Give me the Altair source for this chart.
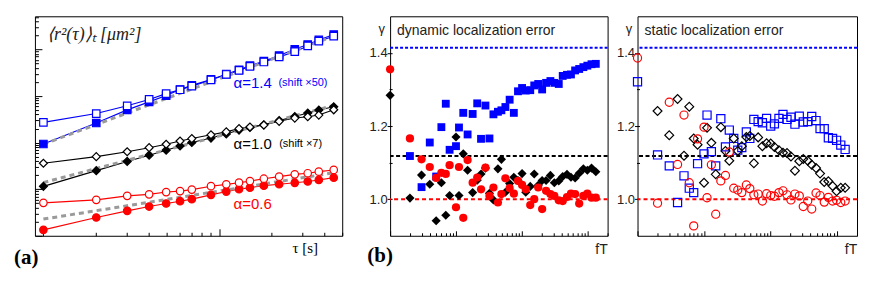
import altair as alt
import pandas as pd

# ---------------- panel (a): time averaged MSD ----------------
TAU = [1, 2, 3, 4, 5, 6, 7, 9, 11, 13, 15, 18, 22, 27, 32, 37, 45]
MSD_BLUE_FILLED = [9.33, 26.3, 50.4, 74.8, 102, 138, 169, 227, 294, 364, 448, 559, 740, 1009, 1274, 1597, 2084]
MSD_BLUE_OPEN = [27.2, 42.0, 61.7, 84.5, 112.5, 136, 163, 221, 290, 355, 431, 537, 691, 894, 1189, 1500, 1919]
MSD_BLACK_FILLED = [1.15, 2.50, 3.94, 5.37, 6.88, 8.46, 10.05, 12.5, 15.3, 18.6, 21.1, 24.2, 29.7, 36.2, 43.0, 49.9, 58.7]
MSD_BLACK_OPEN = [3.60, 4.99, 6.35, 7.78, 9.20, 10.8, 12.2, 14.7, 17.0, 20.0, 21.6, 23.8, 28.6, 33.6, 35.9, 39.0, 50.6]
MSD_RED_FILLED = [0.134, 0.247, 0.343, 0.424, 0.492, 0.553, 0.611, 0.755, 0.889, 1.0, 1.08, 1.19, 1.28, 1.37, 1.46, 1.58, 1.77]
MSD_RED_OPEN = [0.509, 0.590, 0.719, 0.774, 0.867, 0.910, 0.980, 1.16, 1.27, 1.38, 1.49, 1.68, 1.86, 2.08, 2.20, 2.38, 2.59]
FIT_TAU = [1, 45]
FIT_BLUE = [9.25, 1919]
FIT_BLACK = [1.385, 62.6]
FIT_RED = [0.228, 2.25]
XTICKS_A_MAJOR = [1, 10]
XTICKS_A_MINOR = [2, 3, 4, 5, 6, 7, 8, 9, 20, 30, 40, 50]
YTICKS_A_MAJOR = [0.1, 1, 10, 100, 1000]
YTICKS_A_MINOR = [0.2, 0.3, 0.4, 0.5, 0.6, 0.7, 0.8, 0.9,
                  2, 3, 4, 5, 6, 7, 8, 9,
                  20, 30, 40, 50, 60, 70, 80, 90,
                  200, 300, 400, 500, 600, 700, 800, 900,
                  2000, 3000, 4000, 5000]

# ---------------- panel (b): local exponent gamma vs fT ----------------
FT = [0.1, 0.2, 0.3, 0.4, 0.5, 0.6, 0.7, 0.8, 1.0, 1.11, 1.29, 1.5, 1.79, 2.1, 2.4, 2.8, 3.22,
      3.7, 4.33, 4.89, 5.62, 6.52, 7.55, 8.73, 10.07, 11.45, 13.4, 15.4, 17.7, 20.3, 23.3,
      27.1, 31.1, 36.3, 41.7, 48.4, 55.6, 64.3, 74.1, 85.8, 98.6, 114, 132.5]

DYN_BLUE = [1.118, 1.033, 1.155, 1.062, 1.197, 1.261, 1.135, 1.145, 1.196, 1.236, 1.177, 1.233,
            1.262, 1.165, 1.256, 1.166, 1.232, 1.239, 1.243, 1.252, 1.272, 1.236, 1.295, 1.304,
            1.297, 1.298, 1.311, 1.315, 1.300, 1.318, 1.323, 1.318, 1.315, 1.337, 1.340, 1.341,
            1.352, 1.356, 1.361, 1.365, 1.369, 1.370]          # starts at FT[1]
DYN_BLACK = [1.284, 1.003, 1.066, 1.041, 0.941, 1.045, 0.956, 1.010, 1.170, 1.010, 1.124, 1.079,
             1.018, 1.052, 1.069, 1.085, 1.016, 0.998, 1.083, 1.109, 1.019, 1.043, 1.060, 1.051,
             1.070, 1.019, 1.035, 1.069, 1.038, 1.051, 1.051, 1.065, 1.045, 1.050, 1.062, 1.068,
             1.060, 1.058, 1.071, 1.083, 1.079, 1.085, 1.075]
DYN_RED = [1.355, 1.166, 1.109, 1.088, 1.058, 1.072, 1.069, 1.093, 0.978, 1.088, 0.949, 1.107,
           1.045, 1.059, 1.027, 1.086, 1.009, 1.032, 0.991, 1.014, 1.057, 1.030, 1.015, 1.050,
           1.039, 1.027, 0.984, 1.000, 1.032, 0.973, 1.023, 1.014, 1.009, 0.997, 0.995, 1.006,
           1.015, 1.014, 0.988, 1.009, 1.015, 1.004, 1.004]

STA_BLUE = [1.321, 1.121, 1.091, 0.991, 1.064, 1.030, 1.018, 1.097, 1.124, 1.230, 1.130, 1.091,
            1.220, 1.143, 1.189, 1.166, 1.134, 1.141, 1.184, 1.166, 1.218, 1.212, 1.209, 1.221,
            1.200, 1.206, 1.221, 1.232, 1.218, 1.224, 1.205, 1.227, 1.211, 1.212, 1.226, 1.215,
            1.193, 1.193, 1.168, 1.166, 1.161, 1.148, 1.136]
STA_BLACK = [1.241, 1.175, 1.274, 1.119, 1.253, 1.166, 1.149, 1.045, 1.195, 1.154, 1.068, 1.197,
             1.132, 1.105, 1.166, 1.132, 1.145, 1.170, 1.173, 1.098, 1.169, 1.145, 1.153, 1.152,
             1.143, 1.134, 1.127, 1.126, 1.117, 1.078, 1.104, 1.110, 1.105, 1.094, 1.085, 1.070,
             1.047, 1.049, 1.036, 1.022, 1.031, 1.031]          # starts at FT[1]
STA_RED = [1.386, 0.989, 1.265, 1.095, 1.230, 1.045, 0.927, 1.165, 1.197, 1.004, 1.094, 0.959,
           1.050, 1.065, 1.129, 1.030, 1.025, 1.018, 1.039, 1.029, 1.012, 1.014, 0.995, 1.015,
           1.010, 1.008, 1.018, 1.023, 1.012, 0.998, 1.014, 1.009, 0.980, 0.995, 0.973, 1.017,
           1.010, 0.992, 1.005, 0.995, 0.997, 0.991, 0.995]

LIMITS = [1.414, 1.118, 1.0]
XTICKS_B_MAJOR = [0.1, 1, 10, 100]
XTICKS_B_MINOR = [0.2, 0.3, 0.4, 0.5, 0.6, 0.7, 0.8, 0.9, 2, 3, 4, 5, 6, 7, 8, 9,
                  20, 30, 40, 50, 60, 70, 80, 90, 200]
YTICKS_B_MAJOR = [1.0, 1.2, 1.4]
YTICKS_B_MINOR = [1.1, 1.3]

BLUE, BLACK, RED, GRAY = "#0000ff", "#000000", "#ff0000", "#9a9a9a"
SANS = "Liberation Sans"
SERIF = "Liberation Serif"


def tick_axis(orient, offset, values, size):
    return alt.Axis(orient=orient, offset=offset, values=values, labels=False, domain=False,
                    grid=False, title=None, tickColor="black", tickWidth=1, tickSize=size)


def text_layer(x, y, t, scx, scy, **kw):
    d = pd.DataFrame({"x": [x], "y": [y], "t": [t]})
    return alt.Chart(d).mark_text(**kw).encode(
        x=alt.X("x:Q", scale=scx, axis=None), y=alt.Y("y:Q", scale=scy, axis=None), text="t:N")


# ---------------- panel (a) chart ----------------
W_A, H_A = 308, 220
xa = alt.Scale(type="log", domain=[0.895, 50.3], nice=False)
ya = alt.Scale(type="log", domain=[0.1, 5140], nice=False)

series_a = [
    (MSD_BLUE_FILLED, "square", BLUE, BLUE),
    (MSD_BLUE_OPEN, "square", BLUE, "#ffffff"),
    (MSD_BLACK_FILLED, "diamond", BLACK, BLACK),
    (MSD_BLACK_OPEN, "diamond", BLACK, "#ffffff"),
    (MSD_RED_FILLED, "circle", RED, RED),
    (MSD_RED_OPEN, "circle", RED, "#ffffff"),
]

line_layers, point_layers = [], []
for i, (vals, shp, col, fil) in enumerate(series_a):
    d = pd.DataFrame({"x": TAU, "y": vals})
    if i == 0:
        xenc = alt.X("x:Q", scale=xa, axis=tick_axis("top", -H_A, XTICKS_A_MAJOR, 7))
        yenc = alt.Y("y:Q", scale=ya, axis=tick_axis("right", -W_A, YTICKS_A_MAJOR, 7))
    else:
        xenc = alt.X("x:Q", scale=xa, axis=None)
        yenc = alt.Y("y:Q", scale=ya, axis=None)
    line_layers.append(alt.Chart(d).mark_line(color=col, strokeWidth=1.1).encode(x=xenc, y=yenc))
    point_layers.append(alt.Chart(d).mark_point(
        shape=shp, stroke=col, fill=fil, opacity=1, fillOpacity=1, strokeWidth=1.2,
        size=64 if shp == "diamond" else 56).encode(
        x=alt.X("x:Q", scale=xa, axis=None), y=alt.Y("y:Q", scale=ya, axis=None)))

fit_layers = []
for j, vals in enumerate([FIT_BLUE, FIT_BLACK, FIT_RED]):
    d = pd.DataFrame({"x": FIT_TAU, "y": vals})
    if j == 0:
        xenc = alt.X("x:Q", scale=xa, axis=tick_axis("top", -H_A, XTICKS_A_MINOR, 3.5))
        yenc = alt.Y("y:Q", scale=ya, axis=tick_axis("right", -W_A, YTICKS_A_MINOR, 3.5))
    else:
        xenc = alt.X("x:Q", scale=xa, axis=None)
        yenc = alt.Y("y:Q", scale=ya, axis=None)
    fit_layers.append(alt.Chart(d).mark_line(color=GRAY, strokeDash=[5, 4], strokeWidth=3)
                      .encode(x=xenc, y=yenc))

ann_a = [
    text_layer(1.047, 2014, "⟨r²(τ)⟩ₜ [μm²]", xa, ya, align="left", baseline="middle",
               font=SERIF, fontStyle="italic", fontSize=18, color="#222"),
    text_layer(12.1, 190, "α=1.4", xa, ya, align="left", baseline="middle", font=SANS,
               fontSize=15, color=BLUE),
    text_layer(21.8, 190, "(shift ×50)", xa, ya, align="left", baseline="middle", font=SANS,
               fontSize=11, color=BLUE),
    text_layer(12.1, 9.2, "α=1.0", xa, ya, align="left", baseline="middle", font=SANS,
               fontSize=15, color=BLACK),
    text_layer(22.0, 9.2, "(shift ×7)", xa, ya, align="left", baseline="middle", font=SANS,
               fontSize=11, color=BLACK),
    text_layer(12.1, 0.477, "α=0.6", xa, ya, align="left", baseline="middle", font=SANS,
               fontSize=15, color=RED),
    text_layer(31.0, 0.0553, "τ [s]", xa, ya, align="center", baseline="middle", font=SERIF,
               fontSize=15, color=BLACK),
    text_layer(0.68, 0.0338, "(a)", xa, ya, align="left", baseline="middle", font=SERIF,
               fontWeight="bold", fontSize=21, color=BLACK),
]

panel_a = alt.layer(*line_layers, *fit_layers, *point_layers, *ann_a).resolve_axis(
    x="independent", y="independent").properties(width=W_A, height=H_A)


# ---------------- panel (b) charts ----------------
def gamma_panel(width, blue, black, red, filled, title_text, with_b):
    H = 220
    xs = alt.Scale(type="log", domain=[0.1, 200], nice=False)
    ys = alt.Scale(domain=[0.9, 1.5], nice=False, zero=False)
    y_axis_major = alt.Axis(orient="left", offset=-2, values=YTICKS_B_MAJOR, domain=False,
                            grid=False, tickColor="black", tickWidth=1, tickSize=5,
                            format=".1f", labelFont=SANS, labelFontSize=13, labelColor="#222",
                            labelPadding=0, title="γ", titleAngle=0, titleX=-11, titleY=12,
                            titleAlign="center", titleBaseline="middle", titleFont=SANS,
                            titleFontSize=13, titleFontWeight="normal", titleColor="#222")
    y_axis_minor = tick_axis("left", -2, YTICKS_B_MINOR, 3)
    layers = []
    for v, c, dsh in zip(LIMITS, [BLUE, BLACK, RED], [[3, 2], [4, 2.5], [4, 3]]):
        layers.append(alt.Chart(pd.DataFrame({"g": [v]})).mark_rule(
            color=c, strokeDash=dsh, strokeWidth=2).encode(
            y=alt.Y("g:Q", scale=ys, axis=None)))
    specs = [(blue, "square", BLUE, 62, 66), (black, "diamond", BLACK, 84, 78),
             (red, "circle", RED, 68, 66)]
    for k, (vals, shp, col, s_f, s_o) in enumerate(specs):
        fx = FT if len(vals) == len(FT) else FT[1:]
        d = pd.DataFrame({"x": fx, "g": vals})
        if k == 0:
            xenc = alt.X("x:Q", scale=xs, axis=tick_axis("top", -H, XTICKS_B_MAJOR, 5))
            yenc = alt.Y("g:Q", scale=ys, axis=y_axis_major)
        elif k == 1:
            xenc = alt.X("x:Q", scale=xs, axis=tick_axis("top", -H, XTICKS_B_MINOR, 3))
            yenc = alt.Y("g:Q", scale=ys, axis=y_axis_minor)
        else:
            xenc = alt.X("x:Q", scale=xs, axis=None)
            yenc = alt.Y("g:Q", scale=ys, axis=None)
        if filled:
            mk = dict(shape=shp, color=col, filled=True, opacity=1, size=s_f)
        else:
            mk = dict(shape=shp, color=col, filled=False, opacity=1, strokeWidth=1.2, size=s_o)
        layers.append(alt.Chart(d).mark_point(**mk).encode(x=xenc, y=yenc))
    layers.append(text_layer(0.1275, 1.459, title_text, xs, ys, align="left", baseline="middle",
                             font=SANS, fontSize=14, color="#222"))
    layers.append(text_layer(201, 0.862, "fT", xs, ys, align="right", baseline="middle",
                             font=SANS, fontSize=14, color="#222"))
    if with_b:
        layers.append(text_layer(0.045, 0.846, "(b)", xs, ys, align="left", baseline="middle",
                                 font=SERIF, fontWeight="bold", fontSize=21, color=BLACK))
    return alt.layer(*layers).resolve_axis(x="independent", y="independent").properties(
        width=width, height=H)


panel_dyn = gamma_panel(218, DYN_BLUE, DYN_BLACK, DYN_RED, True,
                        "dynamic localization error", True)
panel_sta = gamma_panel(220, STA_BLUE, STA_BLACK, STA_RED, False,
                        "static localization error", False)

chart = alt.hconcat(
    panel_a,
    alt.hconcat(panel_dyn, panel_sta, spacing=6),
    spacing=23,
).properties(
    padding={"left": 5, "top": 7, "right": 5, "bottom": 5},
    background="white",
).configure_view(stroke="black", strokeWidth=1)

chart.save("out.html", embed_options={"renderer": "svg", "actions": False})
